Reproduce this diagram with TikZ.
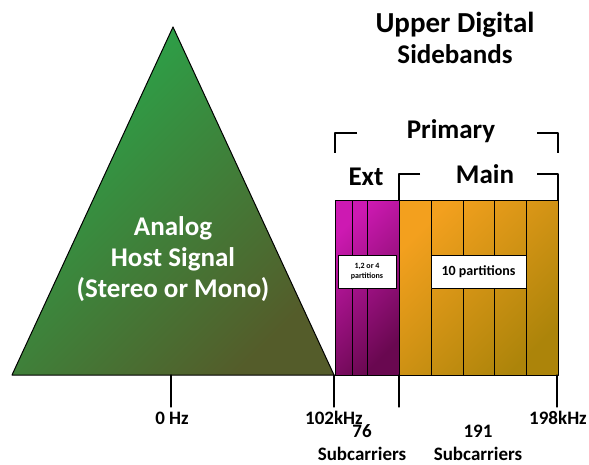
\documentclass[tikz,border=0pt]{standalone}
\usepackage{fontspec}
\setmainfont{Carlito}
\definecolor{greenA}{RGB}{40,168,75}
\definecolor{greenB}{RGB}{84,92,42}
\definecolor{purpA}{RGB}{205,25,178}
\definecolor{purpB}{RGB}{105,8,80}
\definecolor{orA}{RGB}{243,160,30}
\definecolor{orB}{RGB}{172,132,10}
\begin{document}
\begin{tikzpicture}[x=1pt, y=-1pt, font=\bfseries, line join=round, line cap=round,
	band/.style={draw, line width=1pt},
	tag/.style={draw, fill=white, line width=1pt, inner sep=0pt, minimum height=33pt, align=center},
	brk/.style={line width=1.1pt, line cap=butt},
	big/.style={font=\bfseries\fontsize{27}{31}\selectfont, align=center},
	lbl/.style={font=\bfseries\fontsize{19}{23}\selectfont, align=center}]
	\def\yb{375} \def\yt{201}
	\def\xa{335} \def\xb{399} \def\xc{558}
	\useasboundingbox (0,0) rectangle (589,465);
	% analog host signal
	\shade[band, top color=greenA, bottom color=greenB, shading angle=45] (12,\yb)--(173,27)--(334,\yb)--cycle;
	\node[big, text=white] (host) at (173,259) {Analog\\Host Signal\\(Stereo or Mono)};
	% digital sidebands
	\shade[band, top color=purpA, bottom color=purpB, shading angle=45] (\xa,\yt) rectangle (\xb,\yb);
	\shade[band, top color=orA, bottom color=orB, shading angle=45] (\xb,\yt) rectangle (\xc,\yb);
	\foreach \x in {352,367} \draw[line width=1pt] (\x,\yt)--(\x,\yb);
	\foreach \x in {431,463,494,526} \draw[line width=1pt] (\x,\yt)--(\x,\yb);
	\node[tag, minimum width=58pt, font=\bfseries\fontsize{8}{10}\selectfont] (extTag) at (367,272) {1,2 or 4\\partitions};
	\node[tag, minimum width=95pt, font=\bfseries\fontsize{14}{16}\selectfont] (mainTag) at (478.5,272) {10 partitions};
	% brackets
	\draw[brk] (357,133)-|(\xa,153);
	\draw[brk] (537,133)-|(\xc,153);
	\draw[brk] (420,174)-|(\xb,\yt);
	\draw[brk] (537,174)-|(\xc,\yt);
	\node[big] (title) at (455,38) {\fontsize{29}{35}\selectfont Upper Digital\\Sidebands};
	\node[big] (primary) at (451,131) {Primary};
	\node[big] (ext) at (366,177) {Ext};
	\node[big] (main) at (485,174) {Main};
	% axis ticks
	\foreach \x in {171,334,399,557} \draw[line width=1.2pt] (\x,\yb)--++(0,32);
	\node[lbl] (f0) at (172,418) {0 Hz};
	\node[lbl] (f1) at (334,418) {102kHz};
	\node[lbl] (f2) at (558,418) {198kHz};
	\node[lbl] (n1) at (362,443) {76\\Subcarriers};
	\node[lbl] (n2) at (478,443) {191\\Subcarriers};
\end{tikzpicture}
\end{document}
